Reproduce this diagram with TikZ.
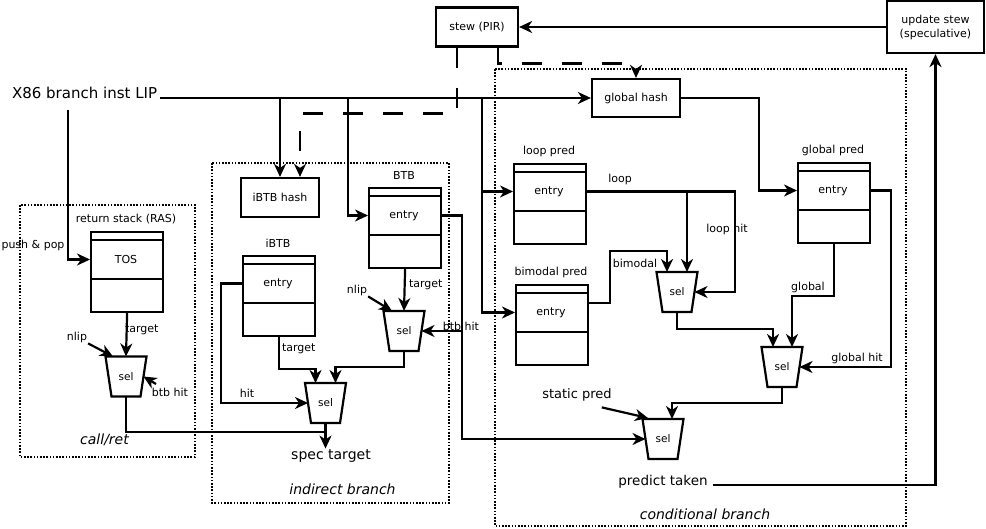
\documentclass[tikz,border=0pt]{standalone}
\usepackage{fontspec}
\setmainfont{DejaVu Sans}
\usetikzlibrary{arrows.meta,calc}
\newcommand\fsml{\fontsize{11}{13}\selectfont}
\newcommand\fbig{\fontsize{14}{16}\selectfont}
\newcommand\fsel{\fontsize{10.5}{12}\selectfont}
\newcommand\mytable[5]{%
  \node[draw, minimum width=72pt, minimum height=80pt, anchor=north west] (#1) at (#2,#3) {};
  \draw (#2,#3+9) -- (#2+72,#3+9);
  \draw (#2,#3+48) -- (#2+72,#3+48);
  \node (#1E) at (#2+36,#3+28.5) {#5};
  \node (#1L) at (#2+36,#3-12) {#4};
}
\newcommand\mymux[3]{%
  \draw (#2-20.5,#3-20) -- (#2+20.5,#3-20) -- (#2+14.5,#3+20) -- (#2-14.5,#3+20) -- cycle;
  \node[font=\fsel] (#1) at (#2,#3) {sel};
  \coordinate (#1n) at (#2,#3-20);
  \coordinate (#1s) at (#2,#3+20);
  \coordinate (#1w) at (#2-17.5,#3);
  \coordinate (#1e) at (#2+17.5,#3);
}
\begin{document}
\begin{tikzpicture}[x=1pt,y=-1pt,line width=2.2pt,
  every node/.style={inner sep=0pt,font=\fsml},
  arr/.style={-{Stealth[length=13pt,width=12pt,inset=4pt]}},
  dsh/.style={dash pattern=on 20pt off 20pt},
  dotbox/.style={line width=1.6pt,dash pattern=on 1.6pt off 1.6pt}]
\useasboundingbox (0,0) rectangle (986,529);

% dotted group frames
\draw[dotbox] (20,205) rectangle (195,457);
\draw[dotbox] (212,163) rectangle (449,503);
\draw[dotbox] (495,69) rectangle (906,526);
\node[font=\fbig\itshape] (callret) at (104.5,440) {call/ret};
\node[font=\fbig\itshape] (indir) at (342.5,489) {indirect branch};
\node[font=\fbig\itshape] (cond) at (705,514) {conditional branch};

% boxes
\node[draw,minimum width=82pt,minimum height=39pt,font=\fontsize{11}{13}\selectfont] (stew) at (477,27) {stew (PIR)};
\node[draw,minimum width=97pt,minimum height=52pt,align=center,font=\fontsize{11}{14}\selectfont] (upd) at (935.5,27) {update stew\\(speculative)};
\node[draw,minimum width=88pt,minimum height=38pt,font=\fontsize{11}{13}\selectfont] (ghash) at (636,98) {global hash};
\node[draw,minimum width=78pt,minimum height=39pt,font=\fontsize{11}{13}\selectfont] (ihash) at (280,197.5) {iBTB hash};
\node[font=\fontsize{15}{17}\selectfont,anchor=west] (lip) at (11,93) {X86 branch inst LIP};

\mytable{ras}{90}{231}{return stack (RAS)}{TOS}
\mytable{btb}{368}{187}{BTB}{entry}
\mytable{ibtb}{242}{255}{iBTB}{entry}
\mytable{loop}{513}{163}{loop pred}{entry}
\mytable{bim}{515}{284}{bimodal pred}{entry}
\mytable{gp}{797}{162}{global pred}{entry}

\mymux{rsel}{126}{376.5}
\mymux{bsel}{404}{331}
\mymux{isel}{325.5}{403}
\mymux{lsel}{677}{292}
\mymux{gsel}{782}{367}
\mymux{fsel}{663}{439}

% labels
\node (pp) at (33,245) {push \& pop};
\node[anchor=west] (rtgt) at (124,330) {target};
\node (nlip1) at (77,337) {nlip};
\node (bh1) at (170,392) {btb hit};
\node (ihit) at (247,393) {hit};
\node[anchor=west] (itgt) at (281,349) {target};
\node[anchor=west] (btgt) at (408,285) {target};
\node (nlip2) at (357,290) {nlip};
\node (bh2) at (461,326) {btb hit};
\node[font=\fbig] (spec) at (331,456) {spec target};
\node (lo) at (620,179) {loop};
\node (lh) at (727,229) {loop hit};
\node (bi) at (635,263) {bimodal};
\node (gl) at (808,287) {global};
\node (gh) at (857,358) {global hit};
\node[font=\fontsize{13}{15}\selectfont] (sp) at (577,395) {static pred};
\node[font=\fontsize{13.5}{16}\selectfont] (pt) at (663,482) {predict taken};

% main LIP line and its branches
\coordinate (lipE) at (160,98);
\coordinate (lipS) at (68,110);
\coordinate (j1) at (280,98);
\coordinate (j2) at (348,98);
\coordinate (j3) at (482,98);
\draw[arr] (lipE) -- (ghash.west);
\draw[arr] (lipS) |- (rasE -| ras.west);
\draw[arr] (j1) -- (ihash.north);
\draw[arr] (j2) |- (btbE -| btb.west);
\draw[arr] (j3) |- (loopE -| loop.west);
\draw[arr] (j3) |- (bimE -| bim.west);

% stew
\draw[dsh,arr] ([xshift=-20pt]stew.south) -- ++(0,66) -| ([xshift=20pt]ihash.north);
\draw[dsh,arr] ([xshift=21pt]stew.south) -- ++(0,16) -| (ghash.north);
\draw[arr] (upd.west) -- (stew.east);
\draw[arr] ([xshift=4pt,yshift=-3pt]pt.east) -| (upd.south);

% global
\draw[arr] (ghash.east) -- ++(78,0) |- (gpE -| gp.west);
\draw[arr] (gp.south) -- ++(0,52) -| ($(gseln)+(10,0)$);
\draw[arr] (gpE -| gp.east) -- ++(20,0) |- (gsele);

% loop / bimodal
\draw[arr] (loopE -| loop.east) -- ++(148,0) |- (lsele);
\coordinate (lj) at ($(lseln)+(10,0)$);
\draw[arr] (lj |- loopE) -- (lj);
\draw[arr] ($(bim.north east)+(0,19)$) -- ++(21,0) |- ($(lseln)+(-10,-21)$) -- ($(lseln)+(-10,0)$);
\draw[arr] (lsels) -- ++(0,17) -| ($(gseln)+(-9,0)$);
\draw[arr] (gsels) -- ++(0,16) -| ($(fseln)+(9,0)$);
\draw[arr] ($(sp.south east)+(-11,5)$) -- ($(fseln)+(-15,-1)$);

% BTB
\coordinate (bj) at ($(btbE -| btb.east)+(20,0)$);
\draw[arr] (btbE -| btb.east) -- (bj) |- (fselw);
\draw[arr] (bj |- bsele) -- (bsele);
\draw[arr] (btb.south) -- (bseln);
\draw[arr] (nlip2.south east) -- ($(bseln)+(-12,0)$);

% iBTB
\draw[arr] (ibtb.south) -- ++(0,32) -| ($(iseln)+(-10,0)$);
\draw[arr] (bsels) -- ++(0,16) -| ($(iseln)+(10,0)$);
\draw[arr] (ibtbE -| ibtb.west) -- ++(-21,0) |- (iselw);
\draw[arr] (isels) -- (isels |- spec.north);

% RAS
\draw[arr] (ras.south) -- (rseln);
\draw[arr] (nlip1.south east) -- ($(rseln)+(-13,0)$);
\coordinate (bh1s) at (156,384);
\draw[arr] (bh1s) -- (rsele);
\draw (rsels) |- ($(isels)+(0,9)$);
\end{tikzpicture}
\end{document}
